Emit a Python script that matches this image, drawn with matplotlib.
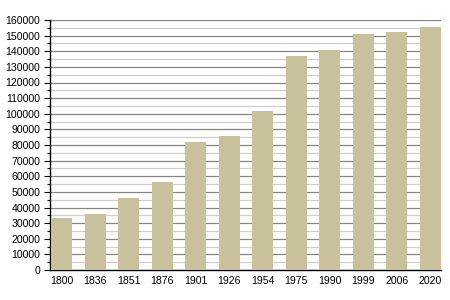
import matplotlib.pyplot as plt
import numpy as np
from matplotlib.ticker import MultipleLocator

plt.rcParams['font.family'] = ['Liberation Sans', 'DejaVu Sans']

# années et population
annees = ['1800', '1836', '1851', '1876', '1901', '1926', '1954', '1975', '1990', '1999', '2006', '2020']
population = [33000, 36000, 46000, 56500, 82000, 86000, 102000, 137000, 141000, 151000, 152500, 155500]

x = np.arange(len(annees))
largeur = 0.63

fig = plt.figure(figsize=(4.5, 3), dpi=100)
ax = fig.add_axes([50/450, 30/300, 391/450, 250/300])

ax.bar(x, population, width=largeur, color='#c9c19b', zorder=3)

ax.set_xlim(-0.345, len(annees) - 1 + largeur/2)
ax.set_ylim(0, 160000)
ax.yaxis.set_major_locator(MultipleLocator(10000))
ax.yaxis.set_minor_locator(MultipleLocator(5000))
ax.grid(axis='y', which='major', color='#858585', linewidth=0.9, zorder=1)
ax.grid(axis='y', which='minor', color='#cfcfcf', linewidth=0.9, zorder=1)

ax.set_xticks(x)
ax.set_xticklabels(annees)
ax.tick_params(axis='x', length=0, pad=4, labelsize=7.6)
ax.tick_params(axis='y', which='major', length=4, width=0.8, labelsize=7.6, pad=3)
ax.tick_params(axis='y', which='minor', length=2, width=0.8)

for s in ['top', 'right']:
    ax.spines[s].set_visible(False)
ax.spines['left'].set_linewidth(1)
ax.spines['bottom'].set_linewidth(1)

fig.savefig('out.png', dpi=100)
